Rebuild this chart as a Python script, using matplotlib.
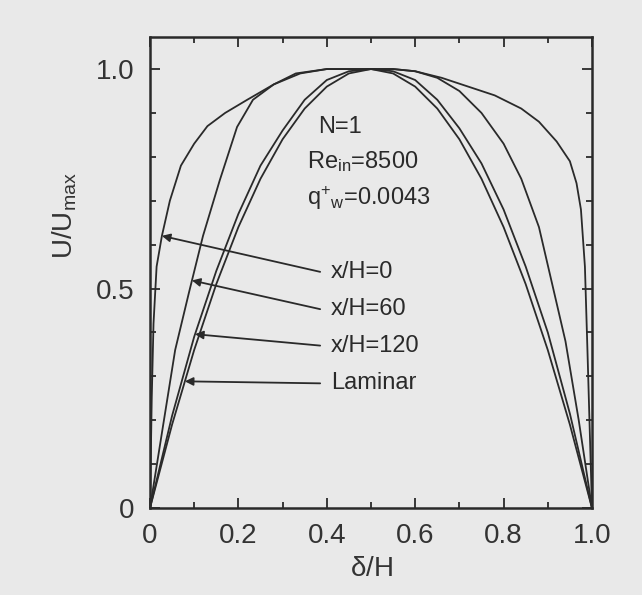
import numpy as np
import matplotlib
matplotlib.use("Agg")
import matplotlib.pyplot as plt

plt.rcParams['font.family'] = ['Liberation Sans', 'DejaVu Sans']
plt.rcParams['mathtext.fontset'] = 'custom'
plt.rcParams['mathtext.rm'] = 'Liberation Sans'
plt.rcParams['mathtext.it'] = 'Liberation Sans'

# velocity profiles: delta/H vs U/Umax
x_turb = [0, 0.004, 0.008, 0.015, 0.027, 0.045, 0.07, 0.1, 0.13, 0.17, 0.22, 0.28,
          0.34, 0.40, 0.45, 0.5, 0.55, 0.6, 0.66, 0.72, 0.78, 0.84, 0.88, 0.92,
          0.95, 0.965, 0.975, 0.984, 0.99, 1.0]
u_turb = [0, 0.25, 0.42, 0.55, 0.62, 0.70, 0.78, 0.83, 0.87, 0.90, 0.93, 0.965,
          0.99, 1.0, 1.0, 1.0, 1.0, 0.995, 0.98, 0.96, 0.94, 0.91, 0.88, 0.835,
          0.79, 0.74, 0.68, 0.55, 0.35, 0]

x_60 = [0, 0.03, 0.057, 0.088, 0.12, 0.158, 0.197, 0.233, 0.28, 0.33, 0.4, 0.45,
        0.5, 0.55, 0.6, 0.65, 0.7, 0.75, 0.8, 0.84, 0.88, 0.91, 0.94, 0.97, 1.0]
u_60 = [0, 0.19, 0.36, 0.49, 0.62, 0.747, 0.868, 0.93, 0.965, 0.99, 1.0, 1.0,
        1.0, 1.0, 0.995, 0.98, 0.95, 0.90, 0.83, 0.75, 0.64, 0.51, 0.38, 0.20, 0]

x_120 = [0, 0.05, 0.1, 0.15, 0.2, 0.25, 0.3, 0.35, 0.4, 0.45, 0.5,
         0.55, 0.6, 0.65, 0.7, 0.75, 0.8, 0.85, 0.9, 0.95, 1.0]
u_120 = [0, 0.21, 0.39, 0.54, 0.67, 0.78, 0.86, 0.93, 0.975, 0.995, 1.0,
         0.995, 0.975, 0.93, 0.865, 0.785, 0.68, 0.55, 0.40, 0.215, 0]

x_lam = [0, 0.05, 0.1, 0.15, 0.2, 0.25, 0.3, 0.35, 0.4, 0.45, 0.5,
         0.55, 0.6, 0.65, 0.7, 0.75, 0.8, 0.85, 0.9, 0.95, 1.0]
u_lam = [0, 0.19, 0.36, 0.51, 0.64, 0.75, 0.84, 0.91, 0.96, 0.99, 1.0,
         0.99, 0.96, 0.91, 0.84, 0.75, 0.64, 0.51, 0.36, 0.19, 0]

curves = [(x_turb, u_turb), (x_60, u_60), (x_120, u_120), (x_lam, u_lam)]
labels = ['x/H=0', 'x/H=60', 'x/H=120', 'Laminar']
head_x = [0.027, 0.095, 0.102, 0.079]
label_y = [0.538, 0.453, 0.37, 0.284]

bg = '#e9e9e9'
ink = '#2a2a2a'

fig = plt.figure(figsize=(6.42, 5.95), dpi=100, facecolor=bg)
ax = fig.add_axes([0.2336, 0.1462, 0.6885, 0.7916], facecolor=bg)

for xs, us in curves:
    ax.plot(xs, us, color=ink, lw=1.3)

for (xs, us), lab, hx, ly in zip(curves, labels, head_x, label_y):
    hy = np.interp(hx, xs, us)
    ax.annotate('', xy=(hx, hy), xytext=(0.385, ly),
                arrowprops=dict(arrowstyle='-|>', color=ink, lw=1.3,
                                mutation_scale=12, shrinkA=0, shrinkB=0))
    ax.text(0.41, ly, lab, fontsize=17, color=ink, va='center', ha='left')

ax.text(0.38, 0.868, 'N=1', fontsize=17, color=ink, va='center')
ax.text(0.355, 0.79, r'Re$_{\rm in}$=8500', fontsize=17, color=ink, va='center')
ax.text(0.355, 0.705, r'q$^{+}{}_{\rm w}$=0.0043', fontsize=17, color=ink, va='center')

ax.set_xlim(0, 1.0)
ax.set_ylim(0, 1.073)
ax.set_xticks([0, 0.2, 0.4, 0.6, 0.8, 1.0])
ax.set_xticklabels(['0', '0.2', '0.4', '0.6', '0.8', '1.0'])
ax.set_xticks(np.arange(0.1, 1.0, 0.2), minor=True)
ax.set_yticks([0, 0.5, 1.0])
ax.set_yticklabels(['0', '0.5', '1.0'])
ax.set_yticks(np.arange(0.1, 1.05, 0.1), minor=True)
ax.tick_params(which='both', direction='in', top=True, right=True,
               color=ink, width=1.3, labelcolor='#333333', labelsize=20)
ax.tick_params(which='major', length=7, pad=11)
ax.tick_params(which='minor', length=4)
for s in ax.spines.values():
    s.set_linewidth(1.8)
    s.set_color(ink)

ax.set_xlabel(r'$\delta$/H', fontsize=20, color='#333333', labelpad=5)
ax.set_ylabel(r'U/U$_{\rm max}$', fontsize=20, color='#333333')
ax.yaxis.set_label_coords(-0.16, 0.62)

fig.savefig('out.png', dpi=100, facecolor=bg)
